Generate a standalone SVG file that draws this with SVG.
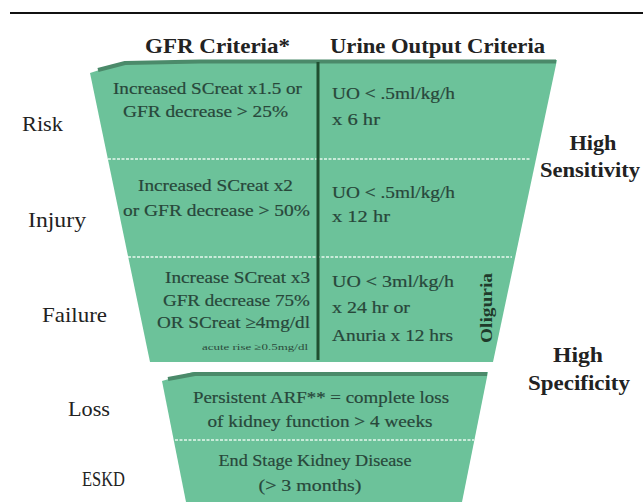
<svg xmlns="http://www.w3.org/2000/svg" width="643" height="502" viewBox="0 0 643 502">
<style>
.shape{fill:#6cc29a;}
.band{fill:none;stroke:#4b8a6a;stroke-width:4;stroke-linejoin:round;}
.dash{stroke:#f4fff8;stroke-width:1.6;stroke-dasharray:3 1.5;opacity:0.9;}
.divider{stroke:#1f4f30;stroke-width:3;}
.t{font-size:17px;fill:#28473a;stroke:#28473a;stroke-width:0.2;}
.small{font-size:9px;fill:#2b4a3a;}
.lab{font-size:21px;fill:#222;}
.hd{font-size:21px;font-weight:bold;fill:#222;}
.side{font-size:20px;font-weight:bold;fill:#222;}
.olig{font-size:17px;font-weight:bold;fill:#1f3a2a;}
</style>
<rect x="0" y="0" width="643" height="502" fill="#ffffff"/>
<line x1="10" y1="13" x2="643" y2="13" stroke="#111" stroke-width="2"/>
<g font-family="Liberation Serif, Times New Roman, serif">
<g id="headers">
<text class="hd" x="145" y="53" textLength="145" lengthAdjust="spacingAndGlyphs">GFR Criteria*</text>
<text class="hd" x="330" y="53" textLength="215" lengthAdjust="spacingAndGlyphs">Urine Output Criteria</text>
</g>

<g id="upper-funnel">
<polygon class="shape" points="90,73 118,64 200,61 557,60 493,362 150,362"/>
<polyline class="band" points="98,70 125,63 200,61.5 556,61.5"/>
<line class="dash" x1="108" y1="159" x2="530" y2="159"/>
<line class="dash" x1="128" y1="257" x2="512" y2="257"/>
<line class="divider" x1="318" y1="62" x2="318" y2="360"/>
</g>

<g id="risk">
<text class="lab" x="22" y="131" textLength="41" lengthAdjust="spacingAndGlyphs">Risk</text>
<text class="t" x="113" y="94" textLength="189" lengthAdjust="spacingAndGlyphs">Increased SCreat x1.5 or</text>
<text class="t" x="123" y="117" textLength="165" lengthAdjust="spacingAndGlyphs">GFR decrease &gt; 25%</text>
<text class="t" x="332" y="99" textLength="123" lengthAdjust="spacingAndGlyphs">UO &lt; .5ml/kg/h</text>
<text class="t" x="332" y="125" textLength="48" lengthAdjust="spacingAndGlyphs">x 6 hr</text>
</g>

<g id="injury">
<text class="lab" x="28" y="227" textLength="58" lengthAdjust="spacingAndGlyphs">Injury</text>
<text class="t" x="138" y="191" textLength="155" lengthAdjust="spacingAndGlyphs">Increased SCreat x2</text>
<text class="t" x="123" y="216" textLength="187" lengthAdjust="spacingAndGlyphs">or GFR decrease &gt; 50%</text>
<text class="t" x="332" y="198" textLength="123" lengthAdjust="spacingAndGlyphs">UO &lt; .5ml/kg/h</text>
<text class="t" x="332" y="222" textLength="58" lengthAdjust="spacingAndGlyphs">x 12 hr</text>
</g>

<g id="failure">
<text class="lab" x="42" y="322" textLength="65" lengthAdjust="spacingAndGlyphs">Failure</text>
<text class="t" x="310" y="283" text-anchor="end" textLength="145" lengthAdjust="spacingAndGlyphs">Increase SCreat x3</text>
<text class="t" x="310" y="306" text-anchor="end" textLength="147" lengthAdjust="spacingAndGlyphs">GFR decrease 75%</text>
<text class="t" x="310" y="328" text-anchor="end" textLength="153" lengthAdjust="spacingAndGlyphs">OR SCreat ≥4mg/dl</text>
<text class="small" x="308" y="350" text-anchor="end" textLength="106" lengthAdjust="spacingAndGlyphs">acute rise ≥0.5mg/dl</text>
<text class="t" x="332" y="287" textLength="122" lengthAdjust="spacingAndGlyphs">UO &lt; 3ml/kg/h</text>
<text class="t" x="332" y="313" textLength="78" lengthAdjust="spacingAndGlyphs">x 24 hr or</text>
<text class="t" x="332" y="341" textLength="121" lengthAdjust="spacingAndGlyphs">Anuria x 12 hrs</text>
<text class="olig" x="0" y="0" transform="translate(492,308) rotate(-90)" text-anchor="middle" textLength="70" lengthAdjust="spacingAndGlyphs">Oliguria</text>
</g>

<g id="lower-funnel">
<polygon class="shape" points="162,381 193,372 488,372 462,502 186,502"/>
<polyline class="band" points="168,379 195,374 487,374"/>
<line class="dash" x1="175" y1="440" x2="474" y2="440"/>
</g>

<g id="loss">
<text class="lab" x="68" y="416" textLength="42" lengthAdjust="spacingAndGlyphs">Loss</text>
<text class="t" x="321" y="403" text-anchor="middle" textLength="256" lengthAdjust="spacingAndGlyphs">Persistent ARF** = complete loss</text>
<text class="t" x="320" y="427" text-anchor="middle" textLength="225" lengthAdjust="spacingAndGlyphs">of kidney function &gt; 4 weeks</text>
</g>

<g id="eskd">
<text class="lab" x="82" y="486" textLength="43" lengthAdjust="spacingAndGlyphs">ESKD</text>
<text class="t" x="315" y="466" text-anchor="middle" textLength="193" lengthAdjust="spacingAndGlyphs">End Stage Kidney Disease</text>
<text class="t" x="310" y="491" text-anchor="middle" textLength="103" lengthAdjust="spacingAndGlyphs">(&gt; 3 months)</text>
</g>

<g id="sensitivity">
<text class="side" x="593" y="150" text-anchor="middle" textLength="47" lengthAdjust="spacingAndGlyphs">High</text>
<text class="side" x="590" y="177" text-anchor="middle" textLength="100" lengthAdjust="spacingAndGlyphs">Sensitivity</text>
</g>

<g id="specificity">
<text class="side" x="578" y="362" text-anchor="middle" textLength="50" lengthAdjust="spacingAndGlyphs">High</text>
<text class="side" x="579" y="390" text-anchor="middle" textLength="102" lengthAdjust="spacingAndGlyphs">Specificity</text>
</g>
</g>
</svg>
